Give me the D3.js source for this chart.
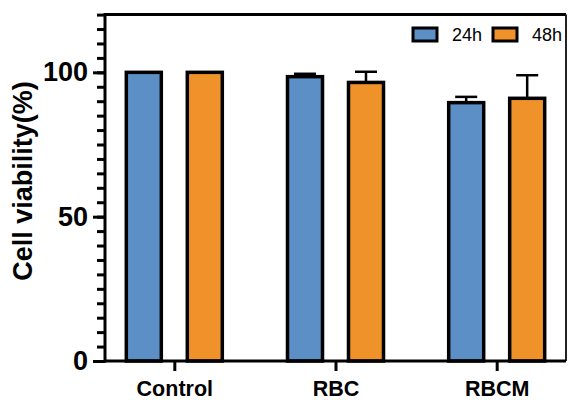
<!DOCTYPE html>
<html>
<head>
<meta charset="utf-8">
<script src="https://cdn.jsdelivr.net/npm/d3@7"></script>
<style>
  body { margin: 0; background: #fff; }
  svg { display: block; font-family: Arial, "Liberation Sans", sans-serif; }
</style>
</head>
<body>
<div id="chart"></div>
<script>
// values
const groups = ["Control", "RBC", "RBCM"];
const series = ["24h", "48h"];
const mean24 = [100, 98.5, 89.5];
const err24 = [0, 1, 2];
const mean48 = [100, 96.5, 91];
const err48 = [0, 3.7, 8];
const majorTicks = [0, 50, 100];
const minorTicks = d3.range(0, 121, 5);

const width = 568, height = 400;
const plotLeft = 105, plotRight = 566, plotTop = 14.6, plotBottom = 361;

const colors = {"24h": "#5b8fc6", "48h": "#f0922a"};

const data = [];
groups.forEach((g, i) => {
    data.push({group: g, key: "24h", value: mean24[i], err: err24[i]});
    data.push({group: g, key: "48h", value: mean48[i], err: err48[i]});
});

const x = d3.scalePoint().domain(groups).range([plotLeft, plotRight]).padding(0.43);
const x1 = d3.scaleBand().domain(series).range([-48, 48]).paddingInner(0.426);
const y = d3.scaleLinear().domain([0, 120]).range([plotBottom, plotTop]);

const svg = d3.select("#chart").append("svg")
    .attr("width", width)
    .attr("height", height)
    .attr("viewBox", [0, 0, width, height]);

// frame top and right
svg.append("line")
    .attr("x1", plotLeft).attr("x2", plotRight)
    .attr("y1", plotTop).attr("y2", plotTop)
    .attr("stroke", "#000").attr("stroke-width", 3);
svg.append("line")
    .attr("x1", plotRight).attr("x2", plotRight)
    .attr("y1", plotTop).attr("y2", plotBottom)
    .attr("stroke", "#222").attr("stroke-width", 2);

// bars
const bars = svg.append("g");
bars.selectAll("rect")
    .data(data)
    .join("rect")
    .attr("x", d => x(d.group) + x1(d.key))
    .attr("y", d => y(d.value))
    .attr("width", x1.bandwidth())
    .attr("height", d => y(0) - y(d.value))
    .attr("fill", d => colors[d.key])
    .attr("stroke", "#000")
    .attr("stroke-width", 3.5);

// error bars (upper only)
const errs = svg.append("g")
    .attr("stroke", "#000")
    .attr("stroke-width", 2.5)
    .selectAll("g")
    .data(data.filter(d => d.err > 0))
    .join("g");
errs.append("line")
    .attr("x1", d => x(d.group) + x1(d.key) + x1.bandwidth() / 2)
    .attr("x2", d => x(d.group) + x1(d.key) + x1.bandwidth() / 2)
    .attr("y1", d => y(d.value))
    .attr("y2", d => y(d.value + d.err));
errs.append("line")
    .attr("x1", d => x(d.group) + x1(d.key) + x1.bandwidth() / 2 - 11)
    .attr("x2", d => x(d.group) + x1(d.key) + x1.bandwidth() / 2 + 11)
    .attr("y1", d => y(d.value + d.err))
    .attr("y2", d => y(d.value + d.err));

// y axis: minor ticks then major ticks with labels
svg.append("g")
    .attr("transform", `translate(${plotLeft},0)`)
    .call(d3.axisLeft(y).tickValues(minorTicks).tickSize(8).tickFormat(""))
    .call(g => g.select(".domain").remove())
    .call(g => g.selectAll(".tick line").attr("stroke-width", 3));

svg.append("g")
    .attr("transform", `translate(${plotLeft},0)`)
    .call(d3.axisLeft(y).tickValues(majorTicks).tickSize(12).tickPadding(5))
    .call(g => g.select(".domain").remove())
    .call(g => g.selectAll(".tick line").attr("stroke-width", 3))
    .call(g => g.selectAll(".tick text")
        .attr("font-family", "Arial, 'Liberation Sans', sans-serif")
        .attr("font-size", 27)
        .attr("font-weight", "bold")
        .attr("fill", "#000"));

svg.append("line")
    .attr("x1", plotLeft).attr("x2", plotLeft)
    .attr("y1", plotTop - 1.5).attr("y2", plotBottom + 1.5)
    .attr("stroke", "#000").attr("stroke-width", 3);

// x axis
svg.append("g")
    .attr("transform", `translate(0,${plotBottom})`)
    .call(d3.axisBottom(x).tickSize(10).tickPadding(10))
    .call(g => g.select(".domain").remove())
    .call(g => g.selectAll(".tick line").attr("stroke-width", 3))
    .call(g => g.selectAll(".tick text")
        .attr("font-family", "Arial, 'Liberation Sans', sans-serif")
        .attr("font-size", 21.5)
        .attr("font-weight", "bold")
        .attr("fill", "#000"));

svg.append("line")
    .attr("x1", plotLeft).attr("x2", plotRight)
    .attr("y1", plotBottom).attr("y2", plotBottom)
    .attr("stroke", "#000").attr("stroke-width", 3);

// y title
svg.append("text")
    .attr("transform", `translate(32,181) rotate(-90)`)
    .attr("text-anchor", "middle")
    .attr("font-size", 27)
    .attr("font-weight", "bold")
    .text("Cell viability(%)");

// legend
const legend = svg.append("g")
    .selectAll("g")
    .data(series)
    .join("g")
    .attr("transform", (d, i) => `translate(${413 + i * 80},28)`);
legend.append("rect")
    .attr("width", 24).attr("height", 13)
    .attr("fill", d => colors[d])
    .attr("stroke", "#000").attr("stroke-width", 3);
legend.append("text")
    .attr("x", 39).attr("y", 13)
    .attr("font-size", 18)
    .text(d => d);
</script>
</body>
</html>
